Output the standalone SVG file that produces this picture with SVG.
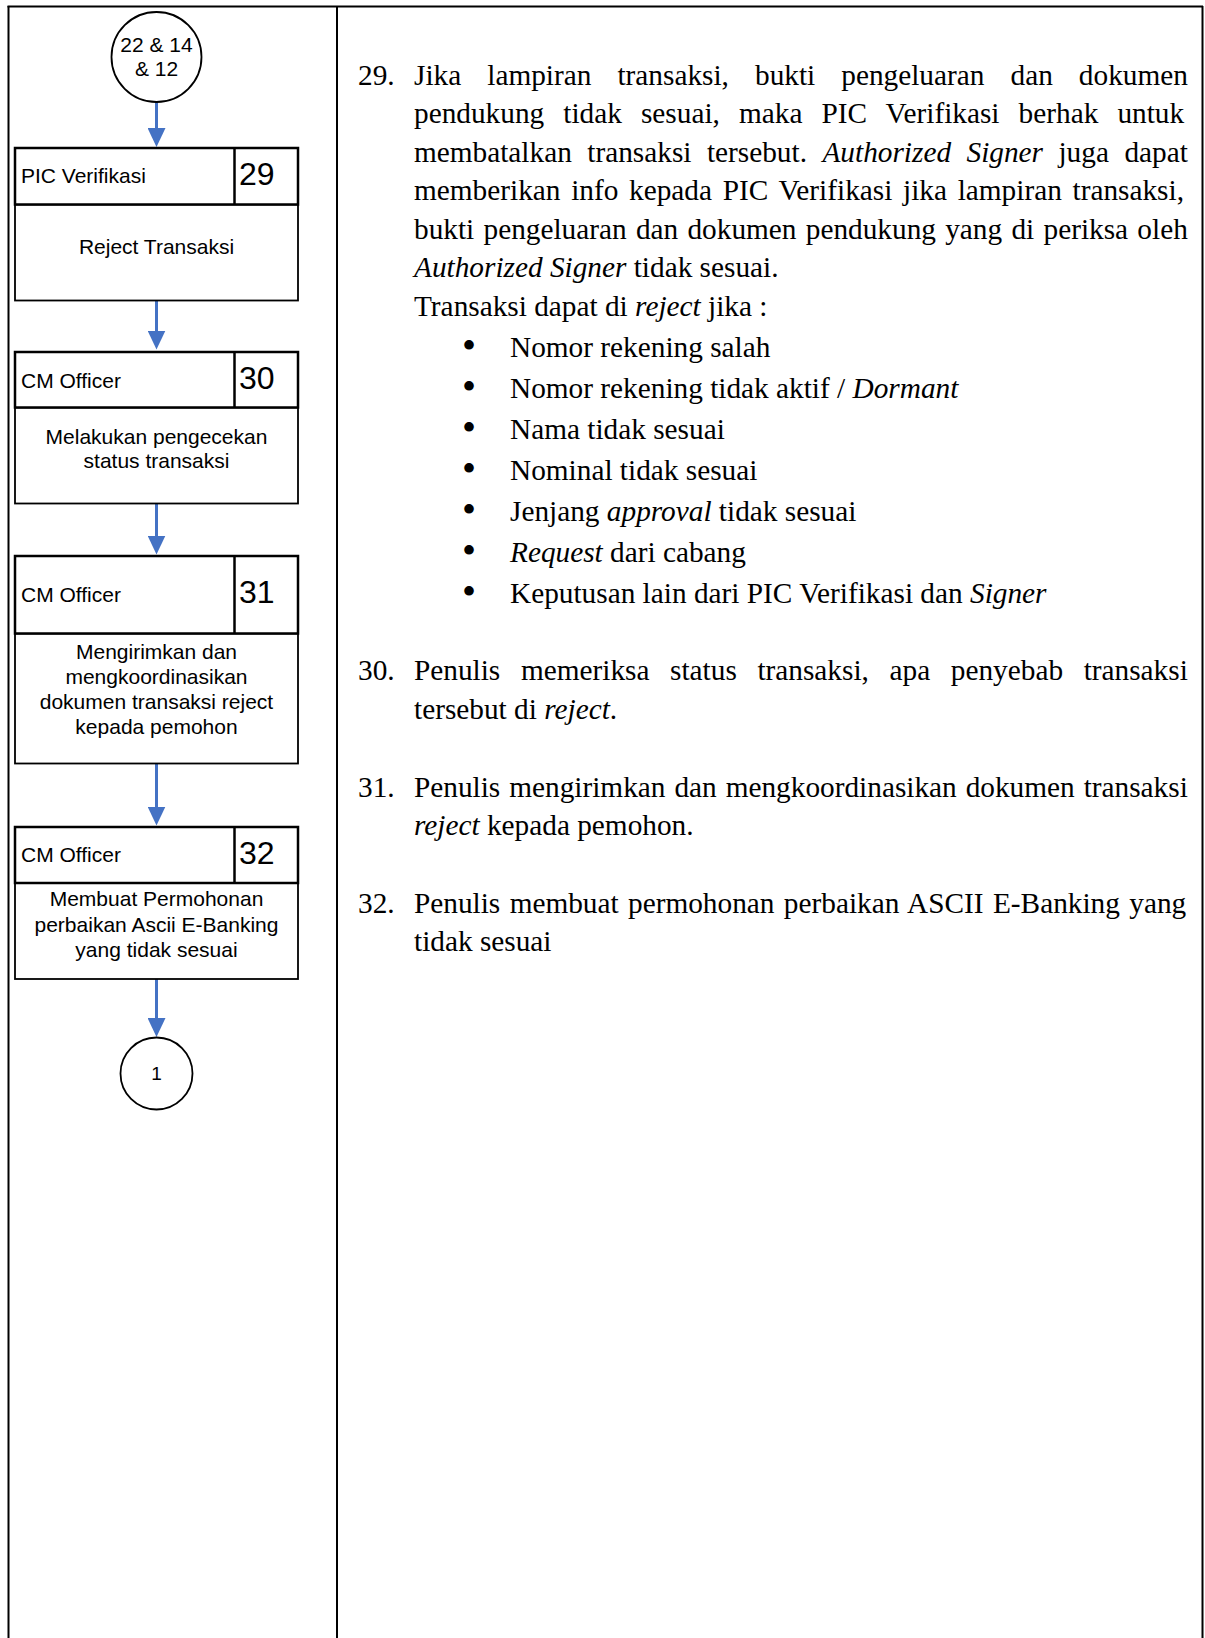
<svg xmlns="http://www.w3.org/2000/svg" width="1205" height="1638" viewBox="0 0 1205 1638">
<style>
.frame{stroke:#000;stroke-width:2;fill:none}
.hdr{fill:#fff;stroke:#000;stroke-width:2.5}
.body{fill:#fff;stroke:#000;stroke-width:1.8}
.circ{fill:#fff;stroke:#000;stroke-width:1.8}
.sans{font-family:"Liberation Sans",Arial,sans-serif;font-size:21px;fill:#000}
.num{font-family:"Liberation Sans",Arial,sans-serif;font-size:32px;fill:#000}
.c{text-anchor:middle}
.serif{font-family:"Liberation Serif","Times New Roman",serif;font-size:29.3px;fill:#000}
.i{font-style:italic}
.bul{font-family:"Liberation Serif","Times New Roman",serif;font-size:40px;fill:#000;text-anchor:middle}
.conn{stroke:#4472C4;stroke-width:3;fill:none;marker-end:url(#ah)}
</style>
<defs>
<marker id="ah" viewBox="0 0 19 18" refX="11" refY="9" markerWidth="19" markerHeight="18" markerUnits="userSpaceOnUse" orient="auto">
<path d="M0,0 L19,9 L0,18 z" fill="#4472C4"/>
</marker>
</defs>
<rect width="1205" height="1638" fill="#fff"/>
<g id="frame">
<line class="frame" x1="7.5" y1="6.5" x2="1203" y2="6.5"/>
<line class="frame" x1="8.5" y1="6" x2="8.5" y2="1638"/>
<line class="frame" x1="337" y1="6" x2="337" y2="1638"/>
<line class="frame" x1="1202.5" y1="6" x2="1202.5" y2="1638"/>
</g>
<g id="connectors">
<line class="conn" x1="156.5" y1="102" x2="156.5" y2="139"/>
<line class="conn" x1="156.5" y1="300.5" x2="156.5" y2="341.5"/>
<line class="conn" x1="156.5" y1="503.5" x2="156.5" y2="546.5"/>
<line class="conn" x1="156.5" y1="763.5" x2="156.5" y2="817.5"/>
<line class="conn" x1="156.5" y1="979" x2="156.5" y2="1029"/>
</g>
<g id="start">
<circle class="circ" cx="156.5" cy="57" r="45"/>
<text class="sans c" x="156.5" y="52">22 &amp; 14</text>
<text class="sans c" x="156.5" y="76">&amp; 12</text>
</g>
<g id="step29">
<rect class="body" x="15" y="204.5" width="283" height="96"/>
<rect class="hdr" x="15" y="148" width="283" height="56.5"/>
<line class="hdr" x1="234.5" y1="148" x2="234.5" y2="204.5"/>
<text class="sans" x="21" y="183">PIC Verifikasi</text>
<text class="num" x="239" y="185">29</text>
<text class="sans c" x="156.5" y="254">Reject Transaksi</text>
</g>
<g id="step30">
<rect class="body" x="15" y="407.5" width="283" height="96"/>
<rect class="hdr" x="15" y="352" width="283" height="55.5"/>
<line class="hdr" x1="234.5" y1="352" x2="234.5" y2="407.5"/>
<text class="sans" x="21" y="387.7">CM Officer</text>
<text class="num" x="239" y="389">30</text>
<text class="sans c" x="156.5" y="444.3">Melakukan pengecekan</text>
<text class="sans c" x="156.5" y="468.3">status transaksi</text>
</g>
<g id="step31">
<rect class="body" x="15" y="633.5" width="283" height="130"/>
<rect class="hdr" x="15" y="556" width="283" height="77.5"/>
<line class="hdr" x1="234.5" y1="556" x2="234.5" y2="633.5"/>
<text class="sans" x="21" y="601.7">CM Officer</text>
<text class="num" x="239" y="603">31</text>
<text class="sans c" x="156.5" y="659">Mengirimkan dan</text>
<text class="sans c" x="156.5" y="684">mengkoordinasikan</text>
<text class="sans c" x="156.5" y="709.3">dokumen transaksi reject</text>
<text class="sans c" x="156.5" y="734.3">kepada pemohon</text>
</g>
<g id="step32">
<rect class="body" x="15" y="883" width="283" height="96"/>
<rect class="hdr" x="15" y="827" width="283" height="56"/>
<line class="hdr" x1="234.5" y1="827" x2="234.5" y2="883"/>
<text class="sans" x="21" y="861.7">CM Officer</text>
<text class="num" x="239" y="864">32</text>
<text class="sans c" x="156.5" y="906">Membuat Permohonan</text>
<text class="sans c" x="156.5" y="931.7">perbaikan Ascii E-Banking</text>
<text class="sans c" x="156.5" y="956.7">yang tidak sesuai</text>
</g>
<g id="end">
<circle class="circ" cx="156.5" cy="1073.5" r="36"/>
<text class="sans c" x="156.5" y="1080" style="font-size:19px">1</text>
</g>
<g id="description">
<text class="serif" x="358" y="84.5">29.</text>
<text class="serif" x="414" y="84.5" style="word-spacing:18.74px">Jika lampiran transaksi, bukti pengeluaran dan dokumen</text>
<text class="serif" x="414" y="123" style="word-spacing:11.76px">pendukung tidak sesuai, maka PIC Verifikasi berhak untuk</text>
<text class="serif" x="414" y="161.5" style="word-spacing:8.15px">membatalkan transaksi tersebut. <tspan class="i">Authorized Signer</tspan> juga dapat</text>
<text class="serif" x="414" y="200" style="word-spacing:3.38px">memberikan info kepada PIC Verifikasi jika lampiran transaksi,</text>
<text class="serif" x="414" y="238.5" style="word-spacing:1.94px">bukti pengeluaran dan dokumen pendukung yang di periksa oleh</text>
<text class="serif" x="414" y="277"><tspan class="i">Authorized Signer</tspan> tidak sesuai.</text>
<text class="serif" x="414" y="315.5">Transaksi dapat di <tspan class="i">reject</tspan> jika :</text>
<text class="bul" x="469" y="359">•</text>
<text class="serif" x="510" y="357">Nomor rekening salah</text>
<text class="bul" x="469" y="400">•</text>
<text class="serif" x="510" y="398">Nomor rekening tidak aktif / <tspan class="i">Dormant</tspan></text>
<text class="bul" x="469" y="441">•</text>
<text class="serif" x="510" y="439">Nama tidak sesuai</text>
<text class="bul" x="469" y="482">•</text>
<text class="serif" x="510" y="480">Nominal tidak sesuai</text>
<text class="bul" x="469" y="523">•</text>
<text class="serif" x="510" y="521">Jenjang <tspan class="i">approval</tspan> tidak sesuai</text>
<text class="bul" x="469" y="564">•</text>
<text class="serif" x="510" y="562"><tspan class="i">Request</tspan> dari cabang</text>
<text class="bul" x="469" y="605">•</text>
<text class="serif" x="510" y="603">Keputusan lain dari PIC Verifikasi dan <tspan class="i">Signer</tspan></text>
<text class="serif" x="358" y="680">30.</text>
<text class="serif" x="414" y="680" style="word-spacing:13.3px">Penulis memeriksa status transaksi, apa penyebab transaksi</text>
<text class="serif" x="414" y="719">tersebut di <tspan class="i">reject</tspan>.</text>
<text class="serif" x="358" y="796.5">31.</text>
<text class="serif" x="414" y="796.5" style="word-spacing:1.63px">Penulis mengirimkan dan mengkoordinasikan dokumen transaksi</text>
<text class="serif" x="414" y="835"><tspan class="i">reject</tspan> kepada pemohon.</text>
<text class="serif" x="358" y="912.5">32.</text>
<text class="serif" x="414" y="912.5" style="word-spacing:2.04px">Penulis membuat permohonan perbaikan ASCII E-Banking yang</text>
<text class="serif" x="414" y="951">tidak sesuai</text>
</g>
</svg>
